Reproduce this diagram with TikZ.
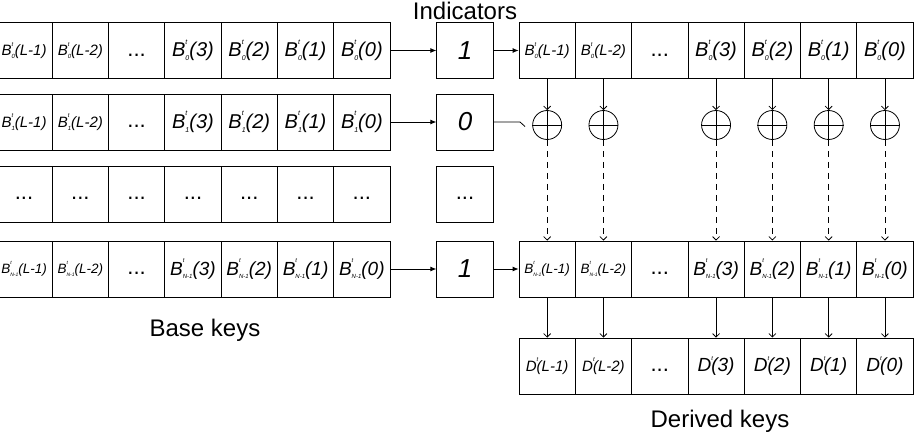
\documentclass[tikz,border=0pt]{standalone}
\usepackage{fontspec}
\setmainfont{Liberation Sans}
\usetikzlibrary{arrows.meta}
\newcommand{\Bsm}[2]{{\fontsize{15}{15}\selectfont B\rlap{\raisebox{.62em}{\fontsize{6}{6}\selectfont t}}\raisebox{-.2em}{\fontsize{6}{6}\selectfont #1}(#2)}}
\newcommand{\Bbg}[2]{{\fontsize{20}{20}\selectfont B\rlap{\raisebox{.62em}{\fontsize{7}{7}\selectfont t}}\raisebox{-.2em}{\fontsize{7}{7}\selectfont #1}(#2)}}
\newcommand{\Bnsm}[1]{{\fontsize{13.5}{13.5}\selectfont B\rlap{\raisebox{.65em}{\fontsize{5}{5}\selectfont t}}\raisebox{-.2em}{\fontsize{5}{5}\selectfont N-1}(#1)}}
\newcommand{\Bnbg}[1]{{\fontsize{19}{19}\selectfont B\rlap{\raisebox{.65em}{\fontsize{6}{6}\selectfont t}}\raisebox{-.2em}{\fontsize{6}{6}\selectfont N-1}(#1)}}
\newcommand{\Dsm}[1]{{\fontsize{15}{15}\selectfont D\rlap{\raisebox{.62em}{\fontsize{6}{6}\selectfont t}}(#1)}}
\newcommand{\Dbg}[1]{{\fontsize{19}{19}\selectfont D\rlap{\raisebox{.62em}{\fontsize{6}{6}\selectfont t}}(#1)}}
\newcommand{\dotsc}{{\fontsize{22}{22}\selectfont\upshape\vphantom{B(}...}}
\tikzset{
  cell/.style={draw, line width=0.8pt, minimum width=56.3pt, minimum height=56pt, inner sep=0pt, font=\itshape},
  indc/.style={cell, minimum width=56.5pt, font=\itshape\fontsize{26}{26}\selectfont},
  xorc/.style={circle, draw, line width=0.8pt, minimum size=29pt, inner sep=0pt},
  farrow/.style={line width=0.8pt, -{Latex[length=6pt,width=5pt]}},
  oarrow/.style={line width=0.8pt, -{Straight Barb[length=3.5pt,width=7pt]}},
  darrow/.style={oarrow, dash pattern=on 6pt off 5pt},
  lab/.style={font=\fontsize{24}{24}\selectfont, anchor=base, inner sep=0pt}
}
\begin{document}
\begin{tikzpicture}[x=1pt,y=-1pt]
\useasboundingbox (0,0) rectangle (918,434);
% left base keys
\foreach \r/\y/\s in {0/50.5/0, 1/122/1} {
  \node[cell] (L\r-0) at (24.05,\y) {\Bsm{\s}{L-1}};
  \node[cell] (L\r-1) at (80.35,\y) {\Bsm{\s}{L-2}};
  \node[cell] (L\r-2) at (136.65,\y) {\dotsc};
  \foreach \c/\a in {3/3,4/2,5/1,6/0}
    \node[cell] (L\r-\c) at ({24.05+56.3*\c},\y) {\Bbg{\s}{\a}};
}
\foreach \c in {0,...,6}
  \node[cell] (LE-\c) at ({24.05+56.3*\c},194) {\dotsc};
\node[cell] (LN-0) at (24.05,269) {\Bnsm{L-1}};
\node[cell] (LN-1) at (80.35,269) {\Bnsm{L-2}};
\node[cell] (LN-2) at (136.65,269) {\dotsc};
\foreach \c/\a in {3/3,4/2,5/1,6/0}
  \node[cell] (LN-\c) at ({24.05+56.3*\c},269) {\Bnbg{\a}};
% indicators
\node[indc] (I0) at (465,50.5) {1};
\node[indc] (I1) at (465,122) {0};
\node[indc] (IE) at (465,194) {\dotsc};
\node[indc] (IN) at (465,269) {1};
% right row 0
\node[cell] (R0-0) at (547.15,50.5) {\Bsm{0}{L-1}};
\node[cell] (R0-1) at (603.45,50.5) {\Bsm{0}{L-2}};
\node[cell] (R0-2) at (659.75,50.5) {\dotsc};
\foreach \c/\a in {3/3,4/2,5/1,6/0}
  \node[cell] (R0-\c) at ({547.15+56.3*\c},50.5) {\Bbg{0}{\a}};
% right row N-1
\node[cell] (RN-0) at (547.15,269) {\Bnsm{L-1}};
\node[cell] (RN-1) at (603.45,269) {\Bnsm{L-2}};
\node[cell] (RN-2) at (659.75,269) {\dotsc};
\foreach \c/\a in {3/3,4/2,5/1,6/0}
  \node[cell] (RN-\c) at ({547.15+56.3*\c},269) {\Bnbg{\a}};
% derived keys
\node[cell] (D-0) at (547.15,366) {\Dsm{L-1}};
\node[cell] (D-1) at (603.45,366) {\Dsm{L-2}};
\node[cell] (D-2) at (659.75,366) {\dotsc};
\foreach \c/\a in {3/3,4/2,5/1,6/0}
  \node[cell] (D-\c) at ({547.15+56.3*\c},366) {\Dbg{\a}};
% xor circles and connectors
\foreach \c in {0,1,3,4,5,6} {
  \node[xorc] (X\c) at ({547.15+56.3*\c},125) {};
  \draw[line width=0.8pt] (X\c.north) -- (X\c.south) (X\c.west) -- (X\c.east);
  \draw[oarrow] (R0-\c.south) -- (X\c.north);
  \draw[darrow] (X\c.south) -- (RN-\c.north);
  \draw[oarrow] (RN-\c.south) -- (D-\c.north);
}
% horizontal arrows
\draw[farrow] (L0-6.east) -- (I0.west);
\draw[farrow] (L1-6.east) -- (I1.west);
\draw[farrow] (LN-6.east) -- (IN.west);
\draw[farrow] (I0.east) -- (R0-0.west);
\draw[farrow] (IN.east) -- (RN-0.west);
\coordinate (s1) at (520,122);
\coordinate (s2) at (525,126.5);
\draw[line width=0.8pt] (I1.east) -- (s1) -- (s2);
% labels
\node[lab] (tind) at (465,19) {Indicators};
\node[lab] (tbase) at (205,336) {Base keys};
\node[lab] (tder) at (720,427) {Derived keys};
\end{tikzpicture}
\end{document}
